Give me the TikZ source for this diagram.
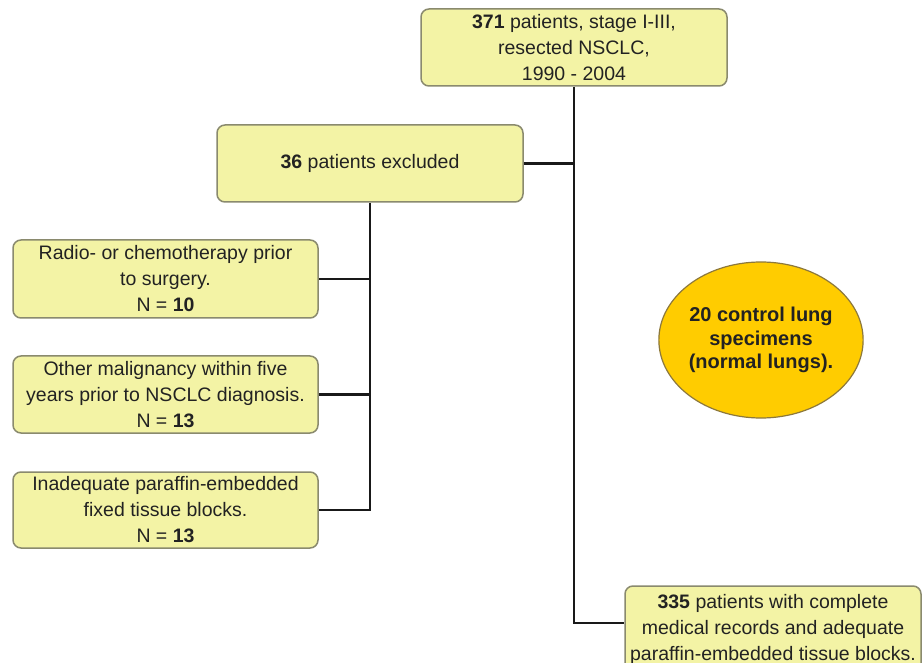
\documentclass[tikz,border=0pt]{standalone}
\usepackage{fontspec}
\setmainfont{Liberation Sans}
\usetikzlibrary{shapes.geometric}
\definecolor{boxfill}{RGB}{243,243,165}
\definecolor{boxline}{RGB}{138,138,110}
\definecolor{goldfill}{RGB}{255,204,0}
\definecolor{goldline}{RGB}{140,120,60}
\definecolor{txt}{RGB}{34,34,34}
\tikzset{
  fbox/.style={rounded corners=8pt, fill=boxfill, draw=boxline, line width=1.5pt,
    align=center, text=txt, inner sep=2pt,
    font=\fontsize{19.5}{26}\selectfont},
  ctrl/.style={ellipse, fill=goldfill, draw=goldline, line width=1.2pt, inner sep=0pt,
    minimum width=168pt, minimum height=156pt, align=center, text=txt,
    font=\fontsize{20}{23.5}\selectfont\bfseries},
  conn/.style={line width=2.5pt, draw=black!90}
}
\begin{document}
\begin{tikzpicture}[x=1pt,y=-1pt]
\useasboundingbox (0,0) rectangle (922,663);
\fill[white] (0,0) rectangle (922,663);
\node[fbox, minimum width=306pt, minimum height=77pt] (top) at (574,47.5)
  {\textbf{371} patients, stage I-III,\\resected NSCLC,\\1990 - 2004};
\node[fbox, minimum width=306pt, minimum height=77pt] (excl) at (370,163.5)
  {\textbf{36} patients excluded};
\node[fbox, minimum width=305pt, minimum height=78pt] (r1) at (165.5,279)
  {Radio- or chemotherapy prior\\to surgery.\\N = \textbf{10}};
\node[fbox, minimum width=305pt, minimum height=77pt] (r2) at (165.5,394.5)
  {Other malignancy within five\\years prior to NSCLC diagnosis.\\N = \textbf{13}};
\node[fbox, minimum width=305pt, minimum height=76pt] (r3) at (165.5,510)
  {Inadequate paraffin-embedded\\fixed tissue blocks.\\N = \textbf{13}};
\node[ctrl] (lungs) at (761,340) {20 control lung\\specimens\\(normal lungs).};
\node[fbox, minimum width=296pt, minimum height=86pt] (final) at (773,629)
  {\textbf{335} patients with complete\\medical records and adequate\\paraffin-embedded tissue blocks.};
\coordinate (fin) at ([yshift=6pt]final.west);
\draw[conn] (top.south) |- (fin);
\draw[conn] (excl.east) -- (excl.east -| top.south);
\draw[conn] (excl.south) |- (r3.east);
\draw[conn] (r1.east) -- (r1.east -| excl.south);
\draw[conn] (r2.east) -- (r2.east -| excl.south);
\end{tikzpicture}
\end{document}
